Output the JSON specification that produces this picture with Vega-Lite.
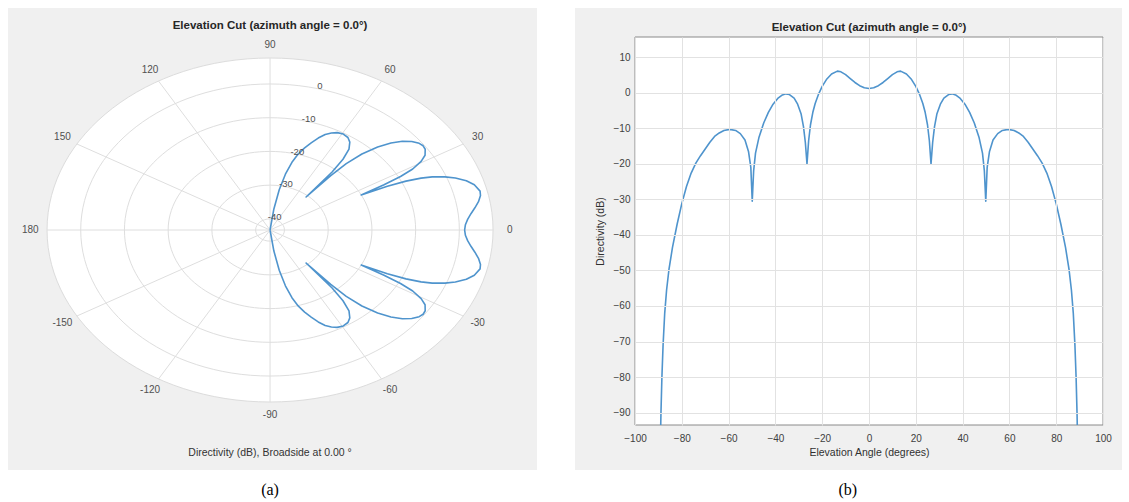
{
  "$schema": "https://vega.github.io/schema/vega-lite/v6.json",
  "background": "white",
  "padding": {"left": 8, "top": 8, "right": 0, "bottom": 0},
  "spacing": 38,
  "config": {"view": {"stroke": null}, "font": "Liberation Sans"},
  "datasets": {
    "pat": [
      {"ang": -89.4, "db": -110, "u": 0, "v": 0},
      {"ang": -89.2, "db": -100, "u": 0, "v": 0},
      {"ang": -88.9, "db": -90, "u": 0, "v": 0},
      {"ang": -88.5, "db": -80, "u": 0, "v": 0},
      {"ang": -88, "db": -71, "u": 0, "v": 0},
      {"ang": -87.3, "db": -62, "u": 0, "v": 0},
      {"ang": -86.5, "db": -55.5, "u": 0, "v": 0},
      {"ang": -85.5, "db": -49.8, "u": 0, "v": 0},
      {"ang": -84, "db": -43.6, "u": 0, "v": 0},
      {"ang": -82, "db": -37, "u": 0.0172, "v": -0.1223},
      {"ang": -80, "db": -31.2, "u": 0.0412, "v": -0.2337},
      {"ang": -78, "db": -26.4, "u": 0.0689, "v": -0.3242},
      {"ang": -76, "db": -22.6, "u": 0.0982, "v": -0.3938},
      {"ang": -74, "db": -19.8, "u": 0.127, "v": -0.443},
      {"ang": -72, "db": -17.7, "u": 0.1551, "v": -0.4774},
      {"ang": -70, "db": -15.8, "u": 0.1844, "v": -0.5067},
      {"ang": -68, "db": -13.9, "u": 0.216, "v": -0.5345},
      {"ang": -66, "db": -12.3, "u": 0.2472, "v": -0.5553},
      {"ang": -64, "db": -11.3, "u": 0.2751, "v": -0.564},
      {"ang": -62, "db": -10.6, "u": 0.301, "v": -0.5662},
      {"ang": -59.5, "db": -10.3, "u": 0.3284, "v": -0.5576},
      {"ang": -57, "db": -10.6, "u": 0.3492, "v": -0.5378},
      {"ang": -55, "db": -11.5, "u": 0.3576, "v": -0.5107},
      {"ang": -53, "db": -13.3, "u": 0.354, "v": -0.4698},
      {"ang": -51.5, "db": -16.5, "u": 0.3271, "v": -0.4113},
      {"ang": -50.5, "db": -21, "u": 0.2782, "v": -0.3374},
      {"ang": -49.9, "db": -30.5, "u": 0.1617, "v": -0.192},
      {"ang": -49.3, "db": -22, "u": 0.2723, "v": -0.3166},
      {"ang": -48.5, "db": -17, "u": 0.3417, "v": -0.3862},
      {"ang": -47, "db": -12.5, "u": 0.4119, "v": -0.4417},
      {"ang": -45, "db": -8.5, "u": 0.4825, "v": -0.4825},
      {"ang": -43, "db": -5.5, "u": 0.5421, "v": -0.5055},
      {"ang": -41, "db": -3.2, "u": 0.5934, "v": -0.5159},
      {"ang": -39, "db": -1.6, "u": 0.6354, "v": -0.5145},
      {"ang": -37, "db": -0.6, "u": 0.6687, "v": -0.5039},
      {"ang": -35.5, "db": -0.3, "u": 0.6864, "v": -0.4896},
      {"ang": -34, "db": -0.5, "u": 0.6957, "v": -0.4693},
      {"ang": -32, "db": -1.5, "u": 0.6951, "v": -0.4343},
      {"ang": -30.5, "db": -3.2, "u": 0.6775, "v": -0.3991},
      {"ang": -29, "db": -6, "u": 0.6397, "v": -0.3546},
      {"ang": -28, "db": -9.5, "u": 0.5851, "v": -0.3111},
      {"ang": -27.2, "db": -14, "u": 0.511, "v": -0.2626},
      {"ang": -26.5, "db": -20, "u": 0.4089, "v": -0.2039},
      {"ang": -25.8, "db": -13.5, "u": 0.5261, "v": -0.2543},
      {"ang": -25, "db": -9, "u": 0.6095, "v": -0.2842},
      {"ang": -24, "db": -5.5, "u": 0.6771, "v": -0.3015},
      {"ang": -23, "db": -3, "u": 0.7274, "v": -0.3088},
      {"ang": -21.5, "db": -0.3, "u": 0.7844, "v": -0.309},
      {"ang": -20, "db": 1.8, "u": 0.831, "v": -0.3024},
      {"ang": -18, "db": 3.9, "u": 0.8802, "v": -0.286},
      {"ang": -16, "db": 5.3, "u": 0.916, "v": -0.2627},
      {"ang": -13.5, "db": 6.1, "u": 0.9418, "v": -0.2261},
      {"ang": -12, "db": 5.9, "u": 0.9436, "v": -0.2006},
      {"ang": -10, "db": 5.1, "u": 0.9346, "v": -0.1648},
      {"ang": -8, "db": 4.0, "u": 0.9185, "v": -0.1291},
      {"ang": -6, "db": 2.9, "u": 0.9009, "v": -0.0947},
      {"ang": -4, "db": 2.0, "u": 0.886, "v": -0.062},
      {"ang": -2, "db": 1.4, "u": 0.876, "v": -0.0306},
      {"ang": 0, "db": 1.2, "u": 0.8725, "v": 0},
      {"ang": 2, "db": 1.4, "u": 0.876, "v": 0.0306},
      {"ang": 4, "db": 2.0, "u": 0.886, "v": 0.062},
      {"ang": 6, "db": 2.9, "u": 0.9009, "v": 0.0947},
      {"ang": 8, "db": 4.0, "u": 0.9185, "v": 0.1291},
      {"ang": 10, "db": 5.1, "u": 0.9346, "v": 0.1648},
      {"ang": 12, "db": 5.9, "u": 0.9436, "v": 0.2006},
      {"ang": 13.5, "db": 6.1, "u": 0.9418, "v": 0.2261},
      {"ang": 16, "db": 5.3, "u": 0.916, "v": 0.2627},
      {"ang": 18, "db": 3.9, "u": 0.8802, "v": 0.286},
      {"ang": 20, "db": 1.8, "u": 0.831, "v": 0.3024},
      {"ang": 21.5, "db": -0.3, "u": 0.7844, "v": 0.309},
      {"ang": 23, "db": -3, "u": 0.7274, "v": 0.3088},
      {"ang": 24, "db": -5.5, "u": 0.6771, "v": 0.3015},
      {"ang": 25, "db": -9, "u": 0.6095, "v": 0.2842},
      {"ang": 25.8, "db": -13.5, "u": 0.5261, "v": 0.2543},
      {"ang": 26.5, "db": -20, "u": 0.4089, "v": 0.2039},
      {"ang": 27.2, "db": -14, "u": 0.511, "v": 0.2626},
      {"ang": 28, "db": -9.5, "u": 0.5851, "v": 0.3111},
      {"ang": 29, "db": -6, "u": 0.6397, "v": 0.3546},
      {"ang": 30.5, "db": -3.2, "u": 0.6775, "v": 0.3991},
      {"ang": 32, "db": -1.5, "u": 0.6951, "v": 0.4343},
      {"ang": 34, "db": -0.5, "u": 0.6957, "v": 0.4693},
      {"ang": 35.5, "db": -0.3, "u": 0.6864, "v": 0.4896},
      {"ang": 37, "db": -0.6, "u": 0.6687, "v": 0.5039},
      {"ang": 39, "db": -1.6, "u": 0.6354, "v": 0.5145},
      {"ang": 41, "db": -3.2, "u": 0.5934, "v": 0.5159},
      {"ang": 43, "db": -5.5, "u": 0.5421, "v": 0.5055},
      {"ang": 45, "db": -8.5, "u": 0.4825, "v": 0.4825},
      {"ang": 47, "db": -12.5, "u": 0.4119, "v": 0.4417},
      {"ang": 48.5, "db": -17, "u": 0.3417, "v": 0.3862},
      {"ang": 49.3, "db": -22, "u": 0.2723, "v": 0.3166},
      {"ang": 49.9, "db": -30.5, "u": 0.1617, "v": 0.192},
      {"ang": 50.5, "db": -21, "u": 0.2782, "v": 0.3374},
      {"ang": 51.5, "db": -16.5, "u": 0.3271, "v": 0.4113},
      {"ang": 53, "db": -13.3, "u": 0.354, "v": 0.4698},
      {"ang": 55, "db": -11.5, "u": 0.3576, "v": 0.5107},
      {"ang": 57, "db": -10.6, "u": 0.3492, "v": 0.5378},
      {"ang": 59.5, "db": -10.3, "u": 0.3284, "v": 0.5576},
      {"ang": 62, "db": -10.6, "u": 0.301, "v": 0.5662},
      {"ang": 64, "db": -11.3, "u": 0.2751, "v": 0.564},
      {"ang": 66, "db": -12.3, "u": 0.2472, "v": 0.5553},
      {"ang": 68, "db": -13.9, "u": 0.216, "v": 0.5345},
      {"ang": 70, "db": -15.8, "u": 0.1844, "v": 0.5067},
      {"ang": 72, "db": -17.7, "u": 0.1551, "v": 0.4774},
      {"ang": 74, "db": -19.8, "u": 0.127, "v": 0.443},
      {"ang": 76, "db": -22.6, "u": 0.0982, "v": 0.3938},
      {"ang": 78, "db": -26.4, "u": 0.0689, "v": 0.3242},
      {"ang": 80, "db": -31.2, "u": 0.0412, "v": 0.2337},
      {"ang": 82, "db": -37, "u": 0.0172, "v": 0.1223},
      {"ang": 84, "db": -43.6, "u": 0, "v": 0},
      {"ang": 85.5, "db": -49.8, "u": 0, "v": 0},
      {"ang": 86.5, "db": -55.5, "u": 0, "v": 0},
      {"ang": 87.3, "db": -62, "u": 0, "v": 0},
      {"ang": 88, "db": -71, "u": 0, "v": 0},
      {"ang": 88.5, "db": -80, "u": 0, "v": 0},
      {"ang": 88.9, "db": -90, "u": 0, "v": 0},
      {"ang": 89.2, "db": -100, "u": 0, "v": 0},
      {"ang": 89.4, "db": -110, "u": 0, "v": 0}
    ],
    "rings": [
      {"level": "-40", "rr": 0.0647},
      {"level": "-30", "rr": 0.2608},
      {"level": "-20", "rr": 0.4569},
      {"level": "-10", "rr": 0.6529},
      {"level": "0", "rr": 0.849},
      {"level": "outer", "rr": 1}
    ],
    "spokes": [
      {"u1": 1, "v1": 0, "u2": -1, "v2": 0},
      {"u1": 0.866, "v1": 0.5, "u2": -0.866, "v2": -0.5},
      {"u1": 0.5, "v1": 0.866, "u2": -0.5, "v2": -0.866},
      {"u1": 0, "v1": 1, "u2": 0, "v2": -1},
      {"u1": -0.5, "v1": 0.866, "u2": 0.5, "v2": -0.866},
      {"u1": -0.866, "v1": 0.5, "u2": 0.866, "v2": -0.5}
    ],
    "alabels": [
      {"lab": "0", "u": 1.075, "v": 0},
      {"lab": "30", "u": 0.931, "v": 0.538},
      {"lab": "60", "u": 0.538, "v": 0.931},
      {"lab": "90", "u": 0, "v": 1.075},
      {"lab": "120", "u": -0.538, "v": 0.931},
      {"lab": "150", "u": -0.931, "v": 0.538},
      {"lab": "180", "u": -1.075, "v": 0},
      {"lab": "-150", "u": -0.931, "v": -0.538},
      {"lab": "-120", "u": -0.538, "v": -0.931},
      {"lab": "-90", "u": 0, "v": -1.075},
      {"lab": "-60", "u": 0.538, "v": -0.931},
      {"lab": "-30", "u": 0.931, "v": -0.538}
    ],
    "rlabels": [
      {"lab": "-40", "u": 0.0207, "v": 0.0773},
      {"lab": "-30", "u": 0.0714, "v": 0.2666},
      {"lab": "-20", "u": 0.1222, "v": 0.4559},
      {"lab": "-10", "u": 0.1729, "v": 0.6452},
      {"lab": "0", "u": 0.2236, "v": 0.8346}
    ]
  },
  "hconcat": [
    {
      "width": 529,
      "height": 433,
      "layer": [
        {
          "data": {"values": [{"ua": -1.175, "ub": 1.197, "va": 1.2907, "vb": -1.3953}]},
          "mark": {"type": "rect", "fill": "#f0f0f0"},
          "encoding": {
            "x": {"field": "ua", "type": "quantitative", "scale": {"domain": [-1.175, 1.197], "nice": false, "zero": false}, "axis": null},
            "x2": {"field": "ub"},
            "y": {"field": "va", "type": "quantitative", "scale": {"domain": [-1.3953, 1.1221], "nice": false, "zero": false}, "axis": null},
            "y2": {"field": "vb"}
          }
        },
        {
          "data": {"name": "rings"},
          "transform": [{"filter": "datum.rr == 1"}],
          "mark": {"type": "point", "shape": "M-1,0A1,0.7713,0,1,1,1,0A1,0.7713,0,1,1,-1,0Z", "filled": true, "fill": "white", "stroke": "#dcdcdc", "strokeWidth": 1, "opacity": 1},
          "encoding": {
            "x": {"datum": 0, "type": "quantitative", "scale": {"domain": [-1.175, 1.197], "nice": false, "zero": false}, "axis": null},
            "y": {"datum": 0, "type": "quantitative", "scale": {"domain": [-1.3953, 1.1221], "nice": false, "zero": false}, "axis": null},
            "size": {"field": "rr", "type": "quantitative", "scale": {"type": "pow", "exponent": 2, "domain": [0, 1], "range": [0, 198916]}, "legend": null}
          }
        },
        {
          "data": {"name": "rings"},
          "transform": [{"filter": "datum.rr < 1"}],
          "mark": {"type": "point", "shape": "M-1,0A1,0.7713,0,1,1,1,0A1,0.7713,0,1,1,-1,0Z", "filled": false, "stroke": "#dedede", "strokeWidth": 1, "opacity": 1},
          "encoding": {
            "x": {"datum": 0, "type": "quantitative", "scale": {"domain": [-1.175, 1.197], "nice": false, "zero": false}, "axis": null},
            "y": {"datum": 0, "type": "quantitative", "scale": {"domain": [-1.3953, 1.1221], "nice": false, "zero": false}, "axis": null},
            "size": {"field": "rr", "type": "quantitative", "scale": {"type": "pow", "exponent": 2, "domain": [0, 1], "range": [0, 198916]}, "legend": null}
          }
        },
        {
          "data": {"name": "spokes"},
          "mark": {"type": "rule", "stroke": "#dedede", "strokeWidth": 1},
          "encoding": {
            "x": {"field": "u1", "type": "quantitative", "scale": {"domain": [-1.175, 1.197], "nice": false, "zero": false}, "axis": null},
            "y": {"field": "v1", "type": "quantitative", "scale": {"domain": [-1.3953, 1.1221], "nice": false, "zero": false}, "axis": null},
            "x2": {"field": "u2"},
            "y2": {"field": "v2"}
          }
        },
        {
          "data": {"name": "pat"},
          "mark": {"type": "line", "stroke": "#4f94cd", "strokeWidth": 1.6, "strokeJoin": "round"},
          "encoding": {
            "x": {"field": "u", "type": "quantitative", "scale": {"domain": [-1.175, 1.197], "nice": false, "zero": false}, "axis": null},
            "y": {"field": "v", "type": "quantitative", "scale": {"domain": [-1.3953, 1.1221], "nice": false, "zero": false}, "axis": null},
            "order": {"field": "ang", "type": "quantitative"}
          }
        },
        {
          "data": {"name": "alabels"},
          "mark": {"type": "text", "fontSize": 10, "fill": "#505050", "align": "center", "baseline": "middle"},
          "encoding": {
            "x": {"field": "u", "type": "quantitative", "scale": {"domain": [-1.175, 1.197], "nice": false, "zero": false}, "axis": null},
            "y": {"field": "v", "type": "quantitative", "scale": {"domain": [-1.3953, 1.1221], "nice": false, "zero": false}, "axis": null},
            "text": {"field": "lab"}
          }
        },
        {
          "data": {"name": "rlabels"},
          "mark": {"type": "text", "fontSize": 9.5, "fill": "#505050", "align": "center", "baseline": "middle"},
          "encoding": {
            "x": {"field": "u", "type": "quantitative", "scale": {"domain": [-1.175, 1.197], "nice": false, "zero": false}, "axis": null},
            "y": {"field": "v", "type": "quantitative", "scale": {"domain": [-1.3953, 1.1221], "nice": false, "zero": false}, "axis": null},
            "text": {"field": "lab"}
          }
        },
        {
          "data": {"values": [{"t": "Elevation Cut (azimuth angle = 0.0°)", "u": 0, "v": 1.186}]},
          "mark": {"type": "text", "fontSize": 11.5, "fontWeight": "bold", "fill": "#262626", "align": "center", "baseline": "middle"},
          "encoding": {
            "x": {"field": "u", "type": "quantitative", "scale": {"domain": [-1.175, 1.197], "nice": false, "zero": false}, "axis": null},
            "y": {"field": "v", "type": "quantitative", "scale": {"domain": [-1.3953, 1.1221], "nice": false, "zero": false}, "axis": null},
            "text": {"field": "t"}
          }
        },
        {
          "data": {"values": [{"t": "Directivity (dB), Broadside at 0.00 °", "u": 0, "v": -1.297}]},
          "mark": {"type": "text", "fontSize": 10.5, "fill": "#333333", "align": "center", "baseline": "middle"},
          "encoding": {
            "x": {"field": "u", "type": "quantitative", "scale": {"domain": [-1.175, 1.197], "nice": false, "zero": false}, "axis": null},
            "y": {"field": "v", "type": "quantitative", "scale": {"domain": [-1.3953, 1.1221], "nice": false, "zero": false}, "axis": null},
            "text": {"field": "t"}
          }
        },
        {
          "data": {"values": [{"t": "(a)", "u": 0, "v": -1.512}]},
          "mark": {"type": "text", "fontSize": 16, "font": "Liberation Serif", "fill": "black", "align": "center", "baseline": "middle"},
          "encoding": {
            "x": {"field": "u", "type": "quantitative", "scale": {"domain": [-1.175, 1.197], "nice": false, "zero": false}, "axis": null},
            "y": {"field": "v", "type": "quantitative", "scale": {"domain": [-1.3953, 1.1221], "nice": false, "zero": false}, "axis": null},
            "text": {"field": "t"}
          }
        }
      ]
    },
    {
      "width": 468,
      "height": 388,
      "layer": [
        {
          "data": {"values": [{"x0": -125.64, "x1": 108.12, "y0": 23.86, "y1": -106.16}]},
          "mark": {"type": "rect", "fill": "#f0f0f0"},
          "encoding": {
            "x": {"field": "x0", "type": "quantitative", "scale": {"domain": [-100, 100], "nice": false, "zero": false},
              "axis": {"values": [-100, -80, -60, -40, -20, 0, 20, 40, 60, 80, 100], "title": "Elevation Angle (degrees)", "grid": true, "gridColor": "#e2e2e2", "domain": false, "ticks": false, "labelPadding": 8, "labelFontSize": 10, "labelColor": "#404040", "labelFlush": false, "labelOverlap": false, "titleFontSize": 10.5, "titleFontWeight": "normal", "titleColor": "#303030", "titlePadding": 4, "zindex": 1}},
            "x2": {"field": "x1"},
            "y": {"field": "y0", "type": "quantitative", "scale": {"domain": [-93.5, 15.7], "nice": false, "zero": false},
              "axis": {"values": [-90, -80, -70, -60, -50, -40, -30, -20, -10, 0, 10], "title": "Directivity (dB)", "grid": true, "gridColor": "#e2e2e2", "domain": false, "ticks": false, "labelPadding": 5, "labelFontSize": 10, "labelColor": "#404040", "labelFlush": false, "labelOverlap": false, "labelBound": false, "titleFontSize": 10.5, "titleFontWeight": "normal", "titleColor": "#303030", "titlePadding": 8, "zindex": 1}},
            "y2": {"field": "y1"}
          }
        },
        {
          "data": {"values": [{"x0": -100, "x1": 100, "y0": 15.7, "y1": -93.5}]},
          "mark": {"type": "rect", "fill": "white", "stroke": "#8a8a8a", "strokeWidth": 1},
          "encoding": {
            "x": {"field": "x0", "type": "quantitative", "scale": {"domain": [-100, 100], "nice": false, "zero": false},
              "axis": {"values": [-100, -80, -60, -40, -20, 0, 20, 40, 60, 80, 100], "title": "Elevation Angle (degrees)", "grid": true, "gridColor": "#e2e2e2", "domain": false, "ticks": false, "labelPadding": 8, "labelFontSize": 10, "labelColor": "#404040", "labelFlush": false, "labelOverlap": false, "titleFontSize": 10.5, "titleFontWeight": "normal", "titleColor": "#303030", "titlePadding": 4, "zindex": 1}},
            "x2": {"field": "x1"},
            "y": {"field": "y0", "type": "quantitative", "scale": {"domain": [-93.5, 15.7], "nice": false, "zero": false},
              "axis": {"values": [-90, -80, -70, -60, -50, -40, -30, -20, -10, 0, 10], "title": "Directivity (dB)", "grid": true, "gridColor": "#e2e2e2", "domain": false, "ticks": false, "labelPadding": 5, "labelFontSize": 10, "labelColor": "#404040", "labelFlush": false, "labelOverlap": false, "labelBound": false, "titleFontSize": 10.5, "titleFontWeight": "normal", "titleColor": "#303030", "titlePadding": 8, "zindex": 1}},
            "y2": {"field": "y1"}
          }
        },
        {
          "data": {"name": "pat"},
          "mark": {"type": "line", "stroke": "#4f94cd", "strokeWidth": 1.6, "clip": true, "strokeJoin": "round"},
          "encoding": {
            "x": {"field": "ang", "type": "quantitative", "scale": {"domain": [-100, 100], "nice": false, "zero": false},
              "axis": {"values": [-100, -80, -60, -40, -20, 0, 20, 40, 60, 80, 100], "title": "Elevation Angle (degrees)", "grid": true, "gridColor": "#e2e2e2", "domain": false, "ticks": false, "labelPadding": 8, "labelFontSize": 10, "labelColor": "#404040", "labelFlush": false, "labelOverlap": false, "titleFontSize": 10.5, "titleFontWeight": "normal", "titleColor": "#303030", "titlePadding": 4, "zindex": 1}},
            "y": {"field": "db", "type": "quantitative", "scale": {"domain": [-93.5, 15.7], "nice": false, "zero": false},
              "axis": {"values": [-90, -80, -70, -60, -50, -40, -30, -20, -10, 0, 10], "title": "Directivity (dB)", "grid": true, "gridColor": "#e2e2e2", "domain": false, "ticks": false, "labelPadding": 5, "labelFontSize": 10, "labelColor": "#404040", "labelFlush": false, "labelOverlap": false, "labelBound": false, "titleFontSize": 10.5, "titleFontWeight": "normal", "titleColor": "#303030", "titlePadding": 8, "zindex": 1}}
          }
        },
        {
          "data": {"values": [{"t": "Elevation Cut (azimuth angle = 0.0°)", "x": 0, "y": 18.23}]},
          "mark": {"type": "text", "fontSize": 11.5, "fontWeight": "bold", "fill": "#262626", "align": "center", "baseline": "middle"},
          "encoding": {
            "x": {"field": "x", "type": "quantitative", "scale": {"domain": [-100, 100], "nice": false, "zero": false},
              "axis": {"values": [-100, -80, -60, -40, -20, 0, 20, 40, 60, 80, 100], "title": "Elevation Angle (degrees)", "grid": true, "gridColor": "#e2e2e2", "domain": false, "ticks": false, "labelPadding": 8, "labelFontSize": 10, "labelColor": "#404040", "labelFlush": false, "labelOverlap": false, "titleFontSize": 10.5, "titleFontWeight": "normal", "titleColor": "#303030", "titlePadding": 4, "zindex": 1}},
            "y": {"field": "y", "type": "quantitative", "scale": {"domain": [-93.5, 15.7], "nice": false, "zero": false},
              "axis": {"values": [-90, -80, -70, -60, -50, -40, -30, -20, -10, 0, 10], "title": "Directivity (dB)", "grid": true, "gridColor": "#e2e2e2", "domain": false, "ticks": false, "labelPadding": 5, "labelFontSize": 10, "labelColor": "#404040", "labelFlush": false, "labelOverlap": false, "labelBound": false, "titleFontSize": 10.5, "titleFontWeight": "normal", "titleColor": "#303030", "titlePadding": 8, "zindex": 1}},
            "text": {"field": "t"}
          }
        },
        {
          "data": {"values": [{"t": "(b)", "x": -9.1, "y": -111.8}]},
          "mark": {"type": "text", "fontSize": 16, "font": "Liberation Serif", "fill": "black", "align": "center", "baseline": "middle"},
          "encoding": {
            "x": {"field": "x", "type": "quantitative", "scale": {"domain": [-100, 100], "nice": false, "zero": false},
              "axis": {"values": [-100, -80, -60, -40, -20, 0, 20, 40, 60, 80, 100], "title": "Elevation Angle (degrees)", "grid": true, "gridColor": "#e2e2e2", "domain": false, "ticks": false, "labelPadding": 8, "labelFontSize": 10, "labelColor": "#404040", "labelFlush": false, "labelOverlap": false, "titleFontSize": 10.5, "titleFontWeight": "normal", "titleColor": "#303030", "titlePadding": 4, "zindex": 1}},
            "y": {"field": "y", "type": "quantitative", "scale": {"domain": [-93.5, 15.7], "nice": false, "zero": false},
              "axis": {"values": [-90, -80, -70, -60, -50, -40, -30, -20, -10, 0, 10], "title": "Directivity (dB)", "grid": true, "gridColor": "#e2e2e2", "domain": false, "ticks": false, "labelPadding": 5, "labelFontSize": 10, "labelColor": "#404040", "labelFlush": false, "labelOverlap": false, "labelBound": false, "titleFontSize": 10.5, "titleFontWeight": "normal", "titleColor": "#303030", "titlePadding": 8, "zindex": 1}},
            "text": {"field": "t"}
          }
        }
      ]
    }
  ]
}
